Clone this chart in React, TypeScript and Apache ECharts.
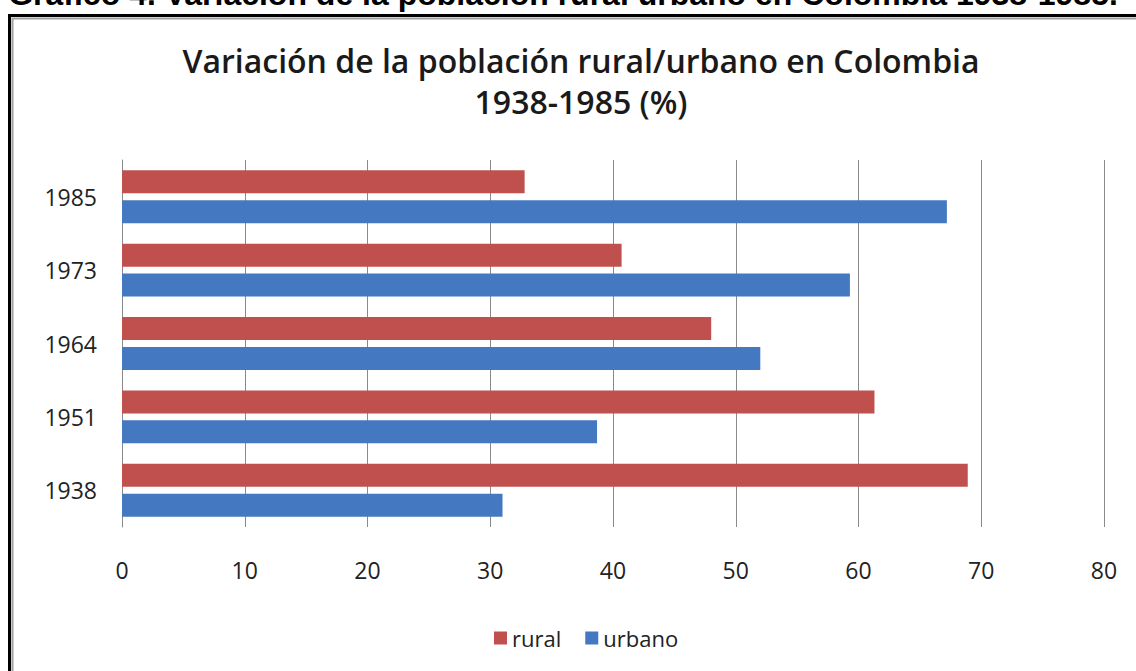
import React, { useEffect, useRef } from "react";
import * as echarts from "echarts";

const years = ["1938", "1951", "1964", "1973", "1985"];
const rural = [68.9, 61.3, 48.0, 40.7, 32.8];
const urbano = [31.0, 38.7, 52.0, 59.3, 67.2];
const xTicks = [0, 10, 20, 30, 40, 50, 60, 70, 80];

const FONT = "'Open Sans', 'Noto Sans', sans-serif";

export default function App() {
  const ref = useRef<HTMLDivElement>(null);
  useEffect(() => {
    if (!ref.current) return;
    const chart = echarts.init(ref.current, undefined, { renderer: "svg" });
    chart.setOption({
      animation: false,
      backgroundColor: "#ffffff",
      title: {
        text: "Variación de la población rural/urbano en Colombia\n1938-1985 (%)",
        left: 576,
        textAlign: "center",
        top: 35,
        textStyle: {
          fontFamily: FONT,
          fontWeight: 600,
          fontSize: 32,
          lineHeight: 41,
          color: "#1a1a1a",
        },
      },
      graphic: [
        {
          type: "text",
          x: 563,
          y: -6,
          style: {
            text: "Gráfico 4. Variación de la población rural urbano en Colombia 1938-1985.",
            font: "bold 32px 'Liberation Sans', Arial, sans-serif",
            fill: "#000",
            align: "center",
            verticalAlign: "middle",
          },
        },
        {
          type: "rect",
          shape: { x: 9.5, y: 15.5, width: 1140, height: 680 },
          style: { fill: "none", stroke: "#000", lineWidth: 3 },
        },
        {
          type: "rect",
          shape: { x: 12.5, y: 18.5, width: 1140, height: 680 },
          style: { fill: "none", stroke: "#a0a0a0", lineWidth: 2 },
        },
      ],
      legend: {
        data: ["rural", "urbano"],
        left: 489,
        top: 622,
        itemWidth: 13,
        itemHeight: 13,
        itemGap: 24,
        icon: "rect",
        textStyle: { fontFamily: FONT, fontSize: 22, color: "#222" },
      },
      grid: { left: 122, right: 32, top: 160, height: 367 },
      xAxis: {
        type: "value",
        min: 0,
        max: 80,
        interval: 10,
        axisLine: { show: false },
        axisTick: { show: false },
        splitLine: { show: true, lineStyle: { color: "#8a8a8a", width: 1 } },
        axisLabel: {
          fontFamily: FONT,
          fontSize: 23,
          color: "#222",
          margin: 31,
          formatter: (v: number) => (xTicks.includes(v) ? String(v) : ""),
        },
      },
      yAxis: {
        type: "category",
        data: years,
        axisLine: { show: true, lineStyle: { color: "#8a8a8a", width: 1 } },
        axisTick: { show: false },
        axisLabel: { fontFamily: FONT, fontSize: 23, color: "#222", margin: 25 },
      },
      series: [
        {
          name: "rural",
          type: "bar",
          data: rural,
          barWidth: 23,
          barGap: "30%",
          itemStyle: { color: "#C0504D" },
        },
        {
          name: "urbano",
          type: "bar",
          data: urbano,
          barWidth: 23,
          barGap: "30%",
          itemStyle: { color: "#4479C1" },
        },
      ],
    });
    return () => chart.dispose();
  }, []);
  return (
    <div
      ref={ref}
      style={{ position: "fixed", left: 0, top: 0, width: 1136, height: 671 }}
    />
  );
}
